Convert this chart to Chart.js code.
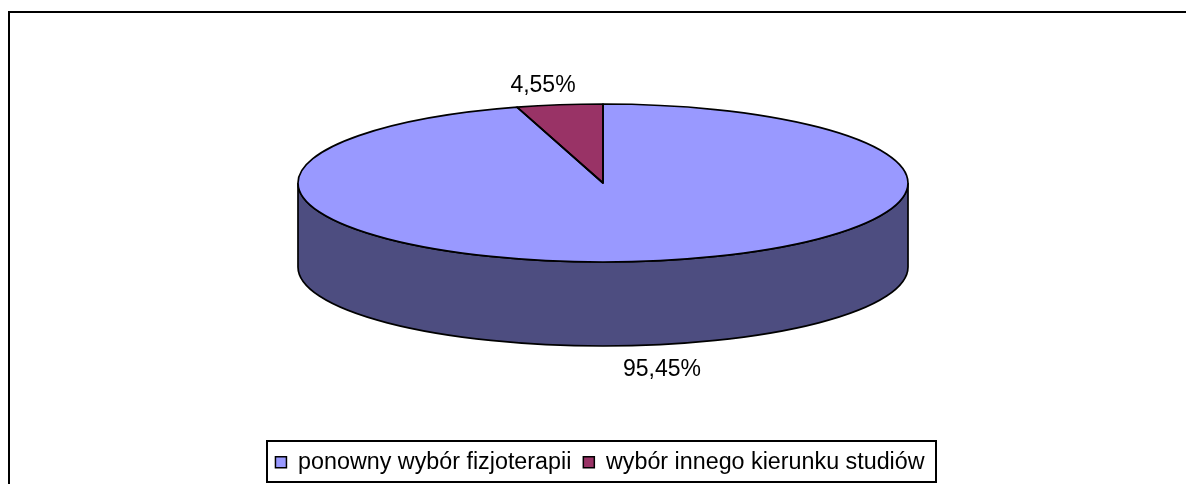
<!DOCTYPE html>
<html><head><meta charset="utf-8">
<style>html,body{margin:0;padding:0;background:#fff}canvas{display:block}</style>
<script src="https://cdn.jsdelivr.net/npm/chart.js@4"></script>
</head><body><canvas id="c" width="1186" height="484"></canvas>
<script>
const categories = ["ponowny wybór fizjoterapii", "wybór innego kierunku studiów"];
const values = [95.45, 4.55];
const valueLabels = ["95,45%", "4,55%"];
const colors = ["#9999ff", "#993366"];
const wallColors = ["#4d4d80", "#4d1a33"];

const CX = 603, CY = 183, RX = 305, RY = 79, DEPTH = 84;

function wedge(ctx, el) {
  ctx.beginPath();
  ctx.moveTo(CX, CY);
  ctx.ellipse(CX, CY, RX, RY, 0, el.startAngle, el.endAngle);
  ctx.closePath();
}
const pie3d = {
  id: "pie3d",
  beforeDatasetsDraw(chart) {
    const ctx = chart.ctx;
    const arcs = chart.getDatasetMeta(0).data;
    ctx.save();
    ctx.strokeStyle = "#000"; ctx.lineWidth = 1.7;
    arcs.forEach((el, i) => {
      for (const k of [0, 2]) {
        const s = Math.max(el.startAngle, k * Math.PI);
        const e = Math.min(el.endAngle, (k + 1) * Math.PI);
        if (e <= s) continue;
        ctx.beginPath();
        ctx.ellipse(CX, CY, RX, RY, 0, s, e);
        ctx.ellipse(CX, CY + DEPTH, RX, RY, 0, e, s, true);
        ctx.closePath();
        ctx.fillStyle = wallColors[i];
        ctx.fill();
        ctx.stroke();
      }
    });
    ctx.restore();
    const first = arcs[0];
    ctx.save();
    const sx = RX / first.outerRadius, sy = RY / first.outerRadius;
    ctx.translate(CX, CY);
    ctx.scale(sx, sy);
    ctx.translate(-first.x, -first.y);
  },
  afterDatasetsDraw(chart) {
    const ctx = chart.ctx;
    ctx.restore();
    const arcs = chart.getDatasetMeta(0).data;
    ctx.save();
    ctx.strokeStyle = "#000"; ctx.lineWidth = 1.7; ctx.lineJoin = "round";
    arcs.forEach(el => { wedge(ctx, el); ctx.stroke(); });
    ctx.fillStyle = "#000";
    ctx.font = '23px "Liberation Sans"';
    ctx.textAlign = "center"; ctx.textBaseline = "middle";
    ctx.fillText(valueLabels[0], 662, 370);
    ctx.fillText(valueLabels[1], 543, 86);
    ctx.restore();
  },
  beforeDraw(chart) {
    const ctx = chart.ctx;
    ctx.save();
    ctx.fillStyle = "#fff"; ctx.fillRect(0, 0, 1186, 484);
    ctx.strokeStyle = "#000"; ctx.lineWidth = 2;
    ctx.beginPath();
    ctx.moveTo(9, 484); ctx.lineTo(9, 12); ctx.lineTo(1186, 12);
    ctx.stroke();
    ctx.strokeRect(267, 441, 669, 41);
    ctx.restore();
  }
};

new Chart(document.getElementById("c"), {
  type: "pie",
  data: { labels: categories, datasets: [{
    data: values, backgroundColor: colors, borderWidth: 0, clip: false
  }]},
  options: {
    responsive: false, animation: false,
    layout: { padding: { left: 14, right: 0, top: 20, bottom: 0 } },
    plugins: {
      tooltip: { enabled: false },
      legend: {
        position: "bottom",
        labels: {
          color: "#000", boxWidth: 11, boxHeight: 11, padding: 12,
          font: { family: '"Liberation Sans"', size: 23.3 },
          generateLabels(chart) {
            return Chart.overrides.pie.plugins.legend.labels.generateLabels(chart).map(x => ({
              ...x, strokeStyle: "#000", lineWidth: 1.5
            }));
          }
        }
      }
    }
  },
  plugins: [pie3d]
});
</script></body></html>
